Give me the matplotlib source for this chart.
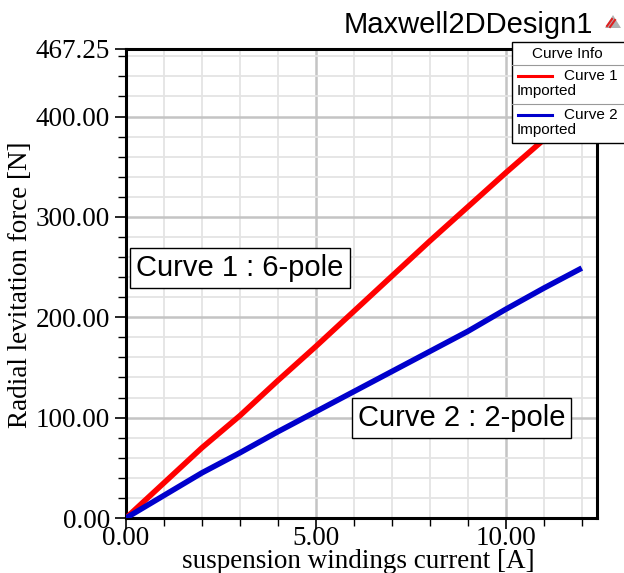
import matplotlib
matplotlib.use("Agg")
import matplotlib.pyplot as plt
from matplotlib.patches import Rectangle, Polygon
from matplotlib.lines import Line2D
from matplotlib.ticker import MultipleLocator

# ---- data ----
current = [0, 2, 3, 4, 5, 6, 7, 8, 9, 10, 11, 12]
curve1_6pole = [0, 70, 102, 137, 171, 206, 241, 276, 310, 344, 377, 410]
curve2_2pole = [0, 45, 65, 86, 106, 126, 146, 166, 186, 208, 229, 249]
yticks = [0.0, 100.0, 200.0, 300.0, 400.0, 467.25]
xticks = [0.0, 5.0, 10.0]
title = "Maxwell2DDesign1"
xlabel = "suspension windings current [A]"
ylabel = "Radial levitation force [N]"
ann1 = "Curve 1 : 6-pole"
ann2 = "Curve 2 : 2-pole"
legend_title = "Curve Info"
legend_names = ["Curve 1", "Curve 2"]
legend_sub = "Imported"

W, H = 624, 573
fig = plt.figure(figsize=(W / 100, H / 100), dpi=100)

def px(x, y):
    return x / W, 1 - y / H

L, R, T, B = 126, 597, 49, 518
ax = fig.add_axes([L / W, 1 - B / H, (R - L) / W, (B - T) / H])

ax.plot(current, curve1_6pole, color="#ff0000", lw=4.0, solid_capstyle="butt", zorder=3)
ax.plot(current, curve2_2pole, color="#0000cc", lw=4.0, solid_capstyle="butt", zorder=3)

ax.set_xlim(0, 12.4)
ax.set_ylim(0, 467.25)
ax.set_xticks(xticks)
ax.set_yticks(yticks)
ax.set_xticklabels([f"{v:.2f}" for v in xticks])
ax.set_yticklabels([f"{v:.2f}" for v in yticks])
ax.xaxis.set_minor_locator(MultipleLocator(1))
ax.yaxis.set_minor_locator(MultipleLocator(20))

serif = "Liberation Serif"
sans = "Liberation Sans"
for lab in ax.get_xticklabels() + ax.get_yticklabels():
    lab.set_fontfamily(serif)
    lab.set_fontsize(19.5)
ax.tick_params(axis="both", which="major", direction="out", length=8, width=1.2, color="black")
ax.tick_params(axis="both", which="minor", direction="out", length=6, width=1.0, color="black")
ax.tick_params(axis="y", which="major", pad=3.5)
ax.tick_params(axis="x", which="major", pad=-2)

ax.grid(which="major", color="#c4c4c4", lw=1.8, zorder=1)
ax.grid(which="minor", color="#e4e4e4", lw=1.3, zorder=0)
ax.set_axisbelow(True)
for s in ax.spines.values():
    s.set_linewidth(2.2)
    s.set_color("black")

ax.set_xlabel(xlabel, fontfamily=serif, fontsize=19.5)
ax.set_ylabel(ylabel, fontfamily=serif, fontsize=19.5)
ax.xaxis.set_label_coords((358 - L) / (R - L), (B - 562) / (B - T))
ax.yaxis.set_label_coords((21 - L) / (R - L), (B - 285) / (B - T))
ax.xaxis.label.set_va("center")
ax.yaxis.label.set_va("center")

bbox = dict(boxstyle="square,pad=0.2", fc="white", ec="black", lw=1.0)
ax.text(0.242, 0.533, ann1, transform=ax.transAxes, ha="center", va="center",
        fontfamily=sans, fontsize=21, bbox=bbox, zorder=5)
ax.text(0.713, 0.213, ann2, transform=ax.transAxes, ha="center", va="center",
        fontfamily=sans, fontsize=21, bbox=bbox, zorder=5)

# title
fig.text(*px(468, 25), title, ha="center", va="center", fontfamily=sans, fontsize=21)

# logo
fig.add_artist(Polygon([px(605, 28), px(621, 28), px(613, 15)], closed=True,
                       fc="#b0b0b0", ec="none"))
fig.add_artist(Line2D([px(607, 26)[0], px(612, 19)[0]], [px(607, 26)[1], px(612, 19)[1]],
                      color="#e02020", lw=1.5))
fig.add_artist(Line2D([px(610, 27)[0], px(615, 20)[0]], [px(610, 27)[1], px(615, 20)[1]],
                      color="#e02020", lw=1.5))

# legend box
x0, y0, x1, y1 = 512, 42, 640, 143
fig.add_artist(Rectangle(px(x0, y1), (x1 - x0) / W, (y1 - y0) / H,
                         fc="white", ec="black", lw=1.0, zorder=10))
for yy in (65, 104):
    fig.add_artist(Line2D([px(x0, yy)[0], 1], [px(x0, yy)[1]] * 2, color="#999999", lw=0.8, zorder=11))
fig.text(*px(567, 54), legend_title, ha="center", va="center", fontfamily=sans, fontsize=11, zorder=12)
colors = ["#ff0000", "#0000cc"]
for i, (nm, c) in enumerate(zip(legend_names, colors)):
    yl = 76 + i * 39
    fig.add_artist(Line2D([px(518, yl)[0], px(552, yl)[0]], [px(518, yl)[1]] * 2, color=c, lw=2.2, zorder=12))
    fig.text(*px(618, yl), nm, ha="right", va="center", fontfamily=sans, fontsize=11, zorder=12)
    fig.text(*px(517, yl + 15), legend_sub, ha="left", va="center", fontfamily=sans, fontsize=11, zorder=12)

fig.savefig("out.png", dpi=100)
